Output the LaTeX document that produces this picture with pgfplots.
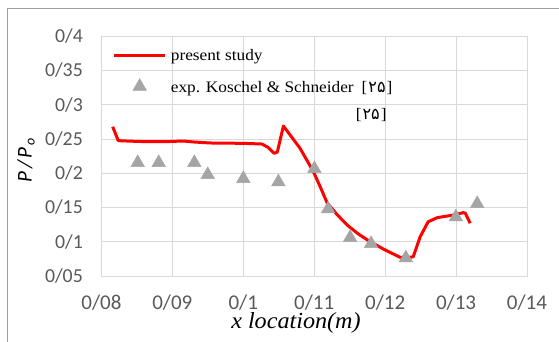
\documentclass[border=0pt]{standalone}
\usepackage{fontspec}
\usepackage{pgfplots}
\pgfplotsset{compat=1.18}
\setmainfont{Liberation Serif}
\newfontfamily\tickfont{Carlito}
\newfontfamily\legfont[FakeStretch=1.08]{Liberation Serif}
\newfontfamily\xlabfont[FakeStretch=1.05]{Liberation Serif}
\newfontfamily\fa[Script=Arabic]{DejaVu Sans}
\definecolor{gridc}{RGB}{217,217,217}
\definecolor{tickc}{RGB}{89,89,89}
\definecolor{markc}{RGB}{165,165,165}
\definecolor{framec}{RGB}{160,160,160}
\begin{document}
\begin{tikzpicture}
\useasboundingbox (0,0) rectangle (559bp,342bp);
\draw[framec, line width=1bp] (7bp,-2bp) -- (7bp,333bp) -- (561bp,333bp);
\begin{axis}[
  at={(101.4bp,66bp)}, anchor=south west,
  scale only axis, width=425.6bp, height=239.6bp,
  xmin=0.08, xmax=0.14, ymin=0.05, ymax=0.4,
  xtick={0.08,0.09,0.1,0.11,0.12,0.13,0.14},
  xticklabels={0/08,0/09,0/1,0/11,0/12,0/13,0/14},
  ytick={0.05,0.1,0.15,0.2,0.25,0.3,0.35,0.4},
  yticklabels={0/05,0/1,0/15,0/2,0/25,0/3,0/35,0/4},
  major tick length=0pt,
  grid=major, grid style={gridc, line width=0.8bp},
  axis line style={gridc, line width=0.8bp},
  xticklabel style={font=\tickfont\fontsize{21bp}{24bp}\selectfont, text=tickc, anchor=base, inner sep=0pt, yshift=-33bp},
  yticklabel style={font=\tickfont\fontsize{19.8bp}{22bp}\selectfont, text=tickc, anchor=base east, inner sep=0pt, xshift=-18.4bp, yshift=-6.3bp},
  xlabel={x location(m)},
  xlabel style={at={(axis description cs:0.4572,0)}, anchor=base, inner sep=0pt, yshift=-52bp, font=\xlabfont\itshape\fontsize{23bp}{26bp}\selectfont},
  ylabel={P\kern2.5bp/\kern2.5bp P\kern1.5bp\raisebox{-3bp}{\fontsize{14bp}{16bp}\selectfont o}},
  ylabel style={at={(axis description cs:-0.1638,0.4829)}, anchor=base, inner sep=0pt, font=\tickfont\itshape\fontsize{21bp}{24bp}\selectfont},
  legend cell align=left,
  legend style={draw=none, fill=none, inner sep=0pt, at={(axis description cs:0.02655,0.9612)}, anchor=north west,
    nodes={inner sep=0pt, text height=15bp, text depth=8bp, font=\legfont\fontsize{16bp}{18bp}\selectfont},
    column sep=4.4bp, row sep=9bp},
]
\addplot[red, line width=3bp, line join=round, no markers,
  legend image code/.code={\draw (0bp,2.2bp) -- (50.6bp,2.2bp);}]
  coordinates {
  (0.08159,0.2681) (0.08238,0.2477) (0.08400,0.2470) (0.08639,0.2462)
  (0.08900,0.2462) (0.09151,0.2472) (0.09300,0.2458) (0.09532,0.2443)
  (0.09800,0.2440) (0.10001,0.2438) (0.10261,0.2428) (0.10350,0.2380)
  (0.10434,0.2292) (0.10480,0.2310) (0.10566,0.2691) (0.10801,0.2365)
  (0.10989,0.2024) (0.11084,0.1805) (0.11183,0.1567) (0.11320,0.1400)
  (0.11464,0.1245) (0.11620,0.1115) (0.11789,0.1001) (0.12000,0.0880)
  (0.12212,0.0773) (0.12395,0.0778) (0.12494,0.1074) (0.12607,0.1293)
  (0.12734,0.1352) (0.12960,0.1391) (0.13101,0.1425) (0.13129,0.1420)
  (0.13199,0.1270)
  };
\addlegendentry{present study}
\addplot[only marks, mark=triangle*, mark size=7.9bp, color=markc,
  mark options={draw=none, fill=markc, yshift=-2bp},
  legend image code/.code={\draw[mark repeat=2,mark phase=2] plot coordinates {(0bp,4.9bp) (25.3bp,4.9bp) (50.6bp,4.9bp)};}]
  coordinates {
  (0.08512,0.2184) (0.08808,0.2184) (0.09310,0.2184) (0.09499,0.2009)
  (0.10001,0.1951) (0.10495,0.1902) (0.11003,0.2097) (0.11196,0.1508)
  (0.11506,0.1089) (0.11802,0.1001) (0.12292,0.0792) (0.12997,0.1391)
  (0.13298,0.1585)
  };
\addlegendentry{exp. Koschel \& Schneider\hspace{8bp}[\kern1bp{\fa\fontsize{16bp}{18bp}\selectfont ۲۵}\kern1bp]}
\node[inner sep=0pt, font=\legfont\fontsize{16bp}{18bp}\selectfont] at (axis cs:0.11803,0.2852) {[\kern1bp{\fa\fontsize{16bp}{18bp}\selectfont ۲۵}\kern1bp]};
\end{axis}
\end{tikzpicture}
\end{document}
